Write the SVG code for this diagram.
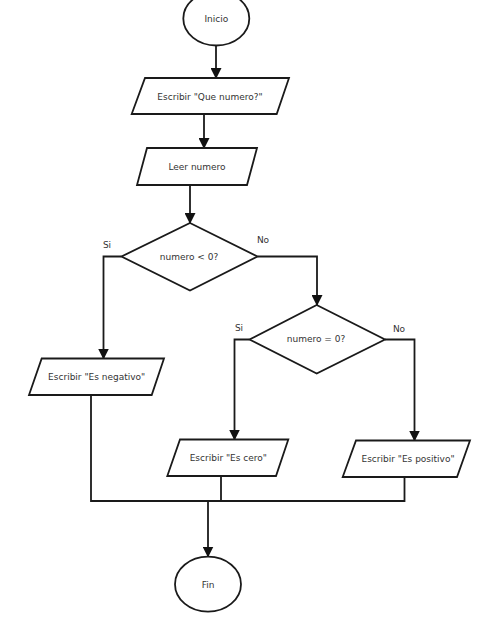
<svg xmlns="http://www.w3.org/2000/svg" width="493" height="622" viewBox="0 0 493 622">
<defs>
<marker id="arr" markerWidth="11" markerHeight="11" refX="10" refY="5.5" orient="auto" markerUnits="userSpaceOnUse">
<path d="M0,0 L11,5.5 L0,11 z" fill="#111"/>
</marker>
</defs>
<style>
.shape{fill:#fff;stroke:#1a1a1a;stroke-width:1.8}
.conn{fill:none;stroke:#1a1a1a;stroke-width:1.8}
text{font-family:"DejaVu Sans",sans-serif;font-size:9px;fill:#333;text-anchor:middle;dominant-baseline:central}
</style>
<rect width="493" height="622" fill="#fff"/>
<g id="connectors">
<path class="conn" d="M216,45.5 L216,78" marker-end="url(#arr)"/>
<path class="conn" d="M204,114 L204,148" marker-end="url(#arr)"/>
<path class="conn" d="M190,185 L190,223" marker-end="url(#arr)"/>
<path class="conn" d="M121.5,256.5 L103.5,256.5 L103.5,358.5" marker-end="url(#arr)"/>
<path class="conn" d="M257.5,256.5 L317,256.5 L317,305" marker-end="url(#arr)"/>
<path class="conn" d="M249.5,339.5 L234.5,339.5 L234.5,439.5" marker-end="url(#arr)"/>
<path class="conn" d="M385,339.5 L414.5,339.5 L414.5,440.5" marker-end="url(#arr)"/>
<path class="conn" d="M91,395 L91,501 L404.5,501 L404.5,477"/>
<path class="conn" d="M221,476 L221,501"/>
<path class="conn" d="M208,501 L208,556.5" marker-end="url(#arr)"/>
</g>
<g id="inicio">
<ellipse class="shape" cx="216.3" cy="18.5" rx="33" ry="27"/>
<text x="216.3" y="19">Inicio</text>
</g>
<g id="escribir-que">
<polygon class="shape" points="145,78 289,78 276.7,114 131.7,114"/>
<text x="210" y="96.5">Escribir "Que numero?"</text>
</g>
<g id="leer">
<polygon class="shape" points="147,148 257,148 247,185 137,185"/>
<text x="197" y="166.5">Leer numero</text>
</g>
<g id="dec1">
<polygon class="shape" points="190,223 257.5,256.5 190,290.5 121.5,256.5"/>
<text x="189" y="256.5">numero &lt; 0?</text>
<text x="107" y="245">Si</text>
<text x="263" y="240">No</text>
</g>
<g id="dec2">
<polygon class="shape" points="316.7,305 385,339.5 316.7,373.5 249.5,339.5"/>
<text x="316" y="339">numero = 0?</text>
<text x="239" y="328">Si</text>
<text x="399" y="329">No</text>
</g>
<g id="negativo">
<polygon class="shape" points="41.7,358.5 164,358.5 151.7,395 29,395"/>
<text x="96.7" y="377.3">Escribir "Es negativo"</text>
</g>
<g id="cero">
<polygon class="shape" points="180,439.5 288.3,439.5 276,476 167.3,476"/>
<text x="228.3" y="458.3">Escribir "Es cero"</text>
</g>
<g id="positivo">
<polygon class="shape" points="356,440.5 470,440.5 457,477 342.7,477"/>
<text x="408" y="459.3">Escribir "Es positivo"</text>
</g>
<g id="fin">
<ellipse class="shape" cx="208" cy="584.2" rx="33" ry="27.5"/>
<text x="208" y="585">Fin</text>
</g>
</svg>
